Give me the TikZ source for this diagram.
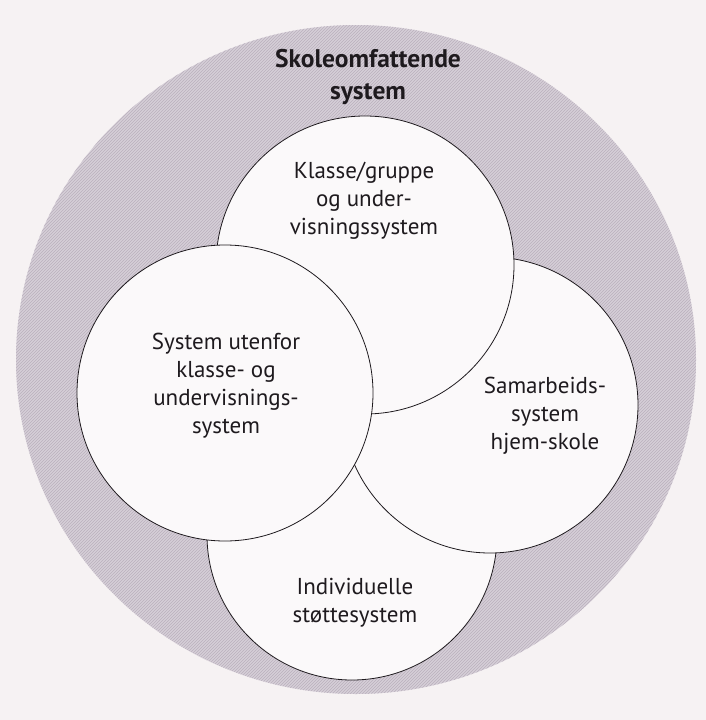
\documentclass[tikz,border=0pt]{standalone}
\usepackage{fontspec}
\setmainfont{PT Sans}
\usetikzlibrary{shapes.geometric,patterns}
\definecolor{pagebg}{HTML}{F6F2F3}
\definecolor{ringgray}{HTML}{D6CFD8}
\definecolor{hatch}{HTML}{BAB0BD}
\definecolor{disc}{HTML}{FBF9FA}
\definecolor{ink}{HTML}{1E1A1E}
\tikzset{
  outerring/.style={ellipse, draw=none, fill=ringgray, inner sep=0pt,
    postaction={pattern=north east lines, pattern color=hatch}},
  sysdisc/.style={circle, draw=ink, line width=0.8pt, fill=disc, inner sep=0pt},
  lbl/.style={align=center, text=ink, font=\fontsize{23}{28}\selectfont, inner sep=0pt},
  title/.style={lbl, font=\fontsize{25.5}{32}\selectfont\bfseries}
}
\begin{document}
\begin{tikzpicture}[x=1pt,y=-1pt]
\useasboundingbox (0,0) rectangle (706,720);
\fill[pagebg] (0,0) rectangle (706,720);
\node[outerring, minimum width=680pt, minimum height=669pt] (school) at (356,359.5) {};
\node[sysdisc, minimum size=290pt] (bottom) at (352,535) {};
\node[sysdisc, minimum size=296pt] (right) at (490,405) {};
\node[sysdisc, minimum size=298pt] (top) at (365,265) {};
\node[sysdisc, minimum size=296pt] (left) at (225,393) {};
\node[title] (tschool) at (368,77) {Skoleomfattende\\system};
\node[lbl] (ttop) at (364,201) {Klasse/gruppe\\og under-\\visningssystem};
\node[lbl] (tleft) at (226,386) {System utenfor\\klasse- og\\undervisnings-\\system};
\node[lbl] (tright) at (545,416) {Samarbeids-\\system\\hjem-skole};
\node[lbl] (tbottom) at (355,603) {Individuelle\\støttesystem};
\end{tikzpicture}
\end{document}
